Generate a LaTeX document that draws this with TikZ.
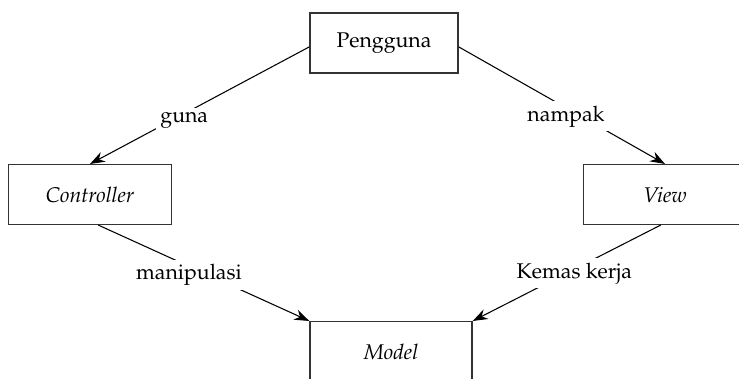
\documentclass[tikz,border=0pt]{standalone}
\usepackage[T1]{fontenc}
\usepackage{mathpazo}
\usetikzlibrary{arrows.meta}

\begin{document}
\begin{tikzpicture}[x=0.47pt, y=-0.47pt,
    kotak/.style={draw=black!80, line width=0.7pt, minimum height=28pt, inner sep=0pt},
    panah/.style={-{Stealth[length=7pt, width=5pt]}, line width=0.5pt},
    lbl/.style={fill=white, inner sep=2pt}]
  \useasboundingbox (0,0) rectangle (739,378);
  % kotak
  \node[kotak, minimum width=69.6pt] (peng) at (384,43) {Pengguna};
  \node[kotak, minimum width=76.6pt] (ctrl) at (90,194.5) {\textit{Controller}};
  \node[kotak, minimum width=76.6pt] (view) at (665,194.5) {\textit{View}};
  \node[kotak, minimum width=76.1pt] (model) at (391,351.5) {\textit{Model}};
  % anak panah
  \draw[panah] (peng.183) -- node[lbl, pos=0.57, yshift=-3pt] {guna} (ctrl.north);
  \draw[panah] (peng.-3) -- node[lbl, pos=0.52, yshift=-4pt] {nampak} (view.north);
  \draw[panah] (ctrl.-75) -- node[lbl, pos=0.43, yshift=-4pt] {manipulasi} (model.north west);
  \draw[panah] (view.-98) -- node[lbl, pos=0.46, yshift=-2pt] {Kemas kerja} (model.north east);
\end{tikzpicture}
\end{document}
